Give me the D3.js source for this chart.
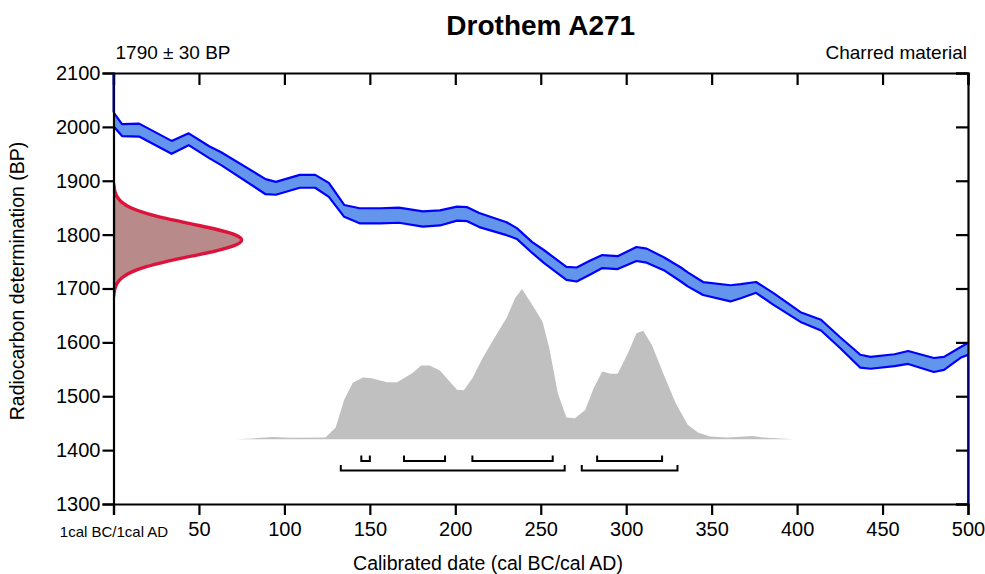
<!DOCTYPE html>
<html>
<head>
<meta charset="utf-8">
<script src="https://cdn.jsdelivr.net/npm/d3@7"></script>
<style>
  html, body { margin: 0; padding: 0; background: #fff; }
  svg { display: block; font-family: "Liberation Sans", Arial, sans-serif; }
</style>
</head>
<body>
<svg id="chart" width="985" height="574"></svg>
<script>
// ---- data ----
const titleText = "Drothem A271";
const sampleDate = "1790 ± 30 BP";
const materialText = "Charred material";
const xTicks = [0, 50, 100, 150, 200, 250, 300, 350, 400, 450, 500];
const xTickLabels = ["1cal BC/1cal AD", "50", "100", "150", "200", "250", "300", "350", "400", "450", "500"];
const yTicks = [1300, 1400, 1500, 1600, 1700, 1800, 1900, 2000, 2100];

// calibration curve (cal AD year, BP centre, 1-sigma error)
const curveYears = [0, 5, 15, 34, 44, 56, 63, 89, 95, 109, 118, 126, 135, 144, 156, 167, 181, 191, 201, 207, 214, 230, 236, 245, 252, 265, 271, 279, 286, 295, 306, 312, 322, 332, 336, 345, 361, 367, 376, 386, 402, 414, 425, 437, 443, 457, 465, 480, 486, 496, 500];
const curveBP = [2014, 1994, 1994, 1962, 1977, 1953, 1941, 1889, 1886, 1899, 1899, 1883, 1844, 1835, 1835, 1836, 1829, 1831, 1839, 1838, 1827, 1811, 1802, 1776, 1759, 1728, 1726, 1739, 1750, 1748, 1764, 1761, 1746, 1726, 1717, 1700, 1691, 1695, 1702, 1681, 1647, 1632, 1600, 1565, 1562, 1567, 1572, 1558, 1561, 1582, 1588];
const curveErr = [13, 11, 12, 12, 11, 11, 12, 14, 12, 12, 12, 13, 11, 14, 14, 14, 14, 14, 13, 13, 13, 12, 10, 10, 12, 12, 13, 13, 12, 12, 13, 13, 12, 13, 13, 12, 15, 13, 10, 11, 9, 10, 10, 12, 11, 11, 12, 13, 12, 10, 11];

// radiocarbon measurement distribution (BP, relative probability)
const measBP = [1685, 1690, 1700, 1710, 1720, 1730, 1740, 1750, 1760, 1770, 1780, 1790, 1800, 1810, 1820, 1830, 1840, 1850, 1860, 1870, 1880, 1890, 1895];
const measProb = [0, 0.004, 0.011, 0.029, 0.066, 0.135, 0.25, 0.41, 0.607, 0.80, 0.946, 1.0, 0.946, 0.80, 0.607, 0.41, 0.25, 0.135, 0.066, 0.029, 0.011, 0.004, 0];
const measPeakYears = 75;

// calibrated date distribution (cal AD year, relative probability)
const calYears = [72, 93, 103, 124, 130, 135, 140, 146, 151, 160, 166, 175, 180, 185, 191, 201, 205, 210, 216, 224, 230, 235, 239, 245, 251, 255, 260, 265, 270, 276, 281, 286, 291, 295, 301, 306, 310, 315, 322, 329, 336, 342, 349, 359, 374, 380, 398];
const calProb = [0, 0.015, 0.01, 0.012, 0.079, 0.263, 0.376, 0.411, 0.407, 0.380, 0.380, 0.441, 0.491, 0.491, 0.458, 0.330, 0.326, 0.407, 0.541, 0.696, 0.807, 0.940, 1.0, 0.895, 0.784, 0.607, 0.307, 0.145, 0.141, 0.196, 0.341, 0.452, 0.436, 0.436, 0.573, 0.706, 0.722, 0.629, 0.430, 0.241, 0.097, 0.045, 0.019, 0.012, 0.023, 0.012, 0];
const calBaseBP = 1420;
const calPeakBP = 279;

// probability ranges
const range68 = [[145, 150], [170, 194], [210, 257], [283, 321]];
const range95 = [[133, 264], [274, 330]];
const range68BP = 1380;
const range95BP = 1362;

// ---- drawing ----
const W = 985, H = 574;
const m = { left: 113.5, right: 17, top: 73, bottom: 70 };
const svg = d3.select("#chart");

const x = d3.scaleLinear().domain([0, 500]).range([m.left, W - m.right]);
const y = d3.scaleLinear().domain([1300, 2100]).range([H - m.bottom, m.top]);
const pScale = d3.scaleLinear().domain([0, 1]).range([y(calBaseBP), y(calBaseBP + calPeakBP)]);

svg.append("defs").append("clipPath").attr("id", "plotclip")
  .append("rect").attr("x", m.left).attr("y", m.top)
  .attr("width", W - m.left - m.right).attr("height", H - m.top - m.bottom);

const plot = svg.append("g").attr("clip-path", "url(#plotclip)");

// calibrated distribution (gray)
const calData = calYears.map((d, i) => ({ x: d, p: calProb[i] }));
plot.append("path")
  .datum(calData)
  .attr("fill", "#c0c0c0")
  .attr("stroke", "none")
  .attr("d", d3.area().x(d => x(d.x)).y0(pScale(0)).y1(d => pScale(d.p)));

// calibration curve band
const curve = curveYears.map((d, i) => ({ x: d, c: curveBP[i], e: curveErr[i] }));
plot.append("path")
  .datum(curve)
  .attr("fill", "#6495ed")
  .attr("stroke", "none")
  .attr("d", d3.area().x(d => x(d.x)).y0(d => y(d.c - d.e)).y1(d => y(d.c + d.e)));
const lineUp = d3.line().x(d => x(d.x)).y(d => y(d.c + d.e));
const lineDn = d3.line().x(d => x(d.x)).y(d => y(d.c - d.e));
plot.append("path").datum(curve).attr("fill", "none").attr("stroke", "#0000ff")
  .attr("stroke-width", 2.2).attr("stroke-linejoin", "round").attr("d", lineUp);
plot.append("path").datum(curve).attr("fill", "none").attr("stroke", "#0000ff")
  .attr("stroke-width", 2.2).attr("stroke-linejoin", "round").attr("d", lineDn);

// measurement distribution (red)
const measData = measBP.map((d, i) => ({ bp: d, p: measProb[i] }));
const measX = d3.scaleLinear().domain([0, 1]).range([x(0), x(measPeakYears)]);
plot.append("path")
  .datum(measData)
  .attr("fill", "#b98a8a")
  .attr("stroke", "#dc143c")
  .attr("stroke-width", 3.4)
  .attr("stroke-linejoin", "round")
  .attr("d", d3.area().curve(d3.curveMonotoneY).y(d => y(d.bp)).x0(measX(0)).x1(d => measX(d.p)));

// probability range brackets
function brackets(ranges, bp) {
  const g = svg.append("g").attr("fill", "none").attr("stroke", "#000").attr("stroke-width", 2);
  ranges.forEach(r => {
    const yy = y(bp);
    g.append("path").attr("d",
      `M${x(r[0])},${yy - 5.5}V${yy}H${x(r[1])}V${yy - 5.5}`);
  });
}
brackets(range68, range68BP);
brackets(range95, range95BP);

// axes
const axisFont = "20px";
const gBottom = svg.append("g").attr("transform", `translate(0,${y(1300)})`)
  .call(d3.axisBottom(x).tickValues(xTicks).tickSize(11).tickPadding(7)
    .tickFormat((d, i) => xTickLabels[i]));
const gLeft = svg.append("g").attr("transform", `translate(${x(0)},0)`)
  .call(d3.axisLeft(y).tickValues(yTicks).tickSize(11).tickPadding(2).tickFormat(d3.format("d")));
const gTop = svg.append("g").attr("transform", `translate(0,${y(2100)})`)
  .call(d3.axisBottom(x).tickValues(xTicks).tickSize(12).tickFormat(""));
const gRight = svg.append("g").attr("transform", `translate(${x(500)},0)`)
  .call(d3.axisLeft(y).tickValues(yTicks).tickSize(12).tickFormat(""));

[gBottom, gLeft, gTop, gRight].forEach(g => {
  g.select(".domain").attr("stroke", "#000").attr("stroke-width", 2.2);
  g.selectAll(".tick line").attr("stroke", "#000").attr("stroke-width", 2.2);
  g.selectAll("text").attr("fill", "#000").style("font-family", "Liberation Sans, Arial, sans-serif").style("font-size", axisFont);
});
gBottom.selectAll(".tick text").filter(d => d === 0).style("font-size", "15px").attr("dy", "1.0em");

// border line segments of the clipped curve at plot edges
svg.append("line").attr("x1", x(0)).attr("x2", x(0)).attr("y1", y(2100)).attr("y2", y(curveBP[0] + curveErr[0]))
  .attr("stroke", "#00008b").attr("stroke-width", 2);
svg.append("line").attr("x1", x(500)).attr("x2", x(500))
  .attr("y1", y(curveBP[curveBP.length - 1] - curveErr[curveErr.length - 1])).attr("y2", y(1300))
  .attr("stroke", "#00008b").attr("stroke-width", 1.5);

// texts
svg.append("text").attr("x", (x(0) + x(500)) / 2).attr("y", 35).attr("text-anchor", "middle")
  .style("font-size", "28px").style("font-weight", "bold").text(titleText);
svg.append("text").attr("x", x(0) + 2).attr("y", 59).style("font-size", "19px").text(sampleDate);
svg.append("text").attr("x", x(500) - 1).attr("y", 59).attr("text-anchor", "end").style("font-size", "19px").text(materialText);
svg.append("text").attr("x", 488).attr("y", 570).attr("text-anchor", "middle").style("font-size", "19.5px")
  .text("Calibrated date (cal BC/cal AD)");
svg.append("text").attr("transform", `translate(24,281) rotate(-90)`).attr("text-anchor", "middle")
  .style("font-size", "19.5px").text("Radiocarbon determination (BP)");
</script>
</body>
</html>
